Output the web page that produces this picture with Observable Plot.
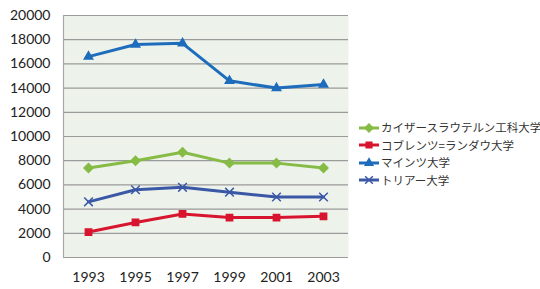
<!DOCTYPE html>
<html><head><meta charset="utf-8">
<script src="https://cdn.jsdelivr.net/npm/d3@7"></script>
<script src="https://cdn.jsdelivr.net/npm/@observablehq/plot@0.6"></script>
<style>
body{margin:0;background:#fff;}
#wrap{position:relative;width:540px;height:289px;}
#legend{position:absolute;left:358px;top:119px;font-family:"Noto Sans CJK JP",sans-serif;font-size:11.5px;color:#333;line-height:17.5px;}
#legend div{display:flex;align-items:center;white-space:nowrap;}
#legend svg{margin-right:1px;}
</style></head><body>
<div id="wrap"><div id="chart"></div><div id="legend"></div></div>
<script>
const years = ["1993","1995","1997","1999","2001","2003"];
const seriesNames = ["カイザースラウテルン工科大学","コブレンツ=ランダウ大学","マインツ大学","トリアー大学"];
const kaiserslautern = [7400, 8000, 8700, 7800, 7800, 7400];
const koblenz = [2100, 2900, 3600, 3300, 3300, 3400];
const mainz = [16600, 17600, 17700, 14600, 14000, 14300];
const trier = [4600, 5600, 5800, 5400, 5000, 5000];
const yTicks = [0,2000,4000,6000,8000,10000,12000,14000,16000,18000,20000];
const colors = ["#86bb45","#d8152f","#1e6cbc","#3a58a6"];
const symbols = ["diamond2","square2","triangle2","times"];

const all = [kaiserslautern, koblenz, mainz, trier];
const data = [];
all.forEach((vals, i) => vals.forEach((v, j) => data.push({year: years[j], value: v, series: seriesNames[i]})));

const chart = Plot.plot({
  width: 540, height: 289,
  marginLeft: 63, marginRight: 192, marginTop: 15, marginBottom: 32,
  style: {fontFamily: "Lato, sans-serif", fontSize: "14px", color: "#222", background: "transparent"},
  x: {type: "point", domain: years, padding: 0.5, label: null, tickSize: 0, tickPadding: 15},
  y: {domain: [0, 20000], ticks: yTicks, tickFormat: d => String(d), label: null, tickSize: 0, tickPadding: 13},
  color: {domain: seriesNames, range: colors},
  symbol: {domain: seriesNames, range: symbols},
  marks: [
    Plot.frame({fill: "#edf3eb", stroke: null}),
    Plot.ruleY(yTicks, {stroke: "#9a9a9a", strokeWidth: 1.2}),
    Plot.frame({anchor: "left", stroke: "#a8a8a8", strokeWidth: 1.2}),
    Plot.line(data, {x: "year", y: "value", z: "series", stroke: "series", strokeWidth: 3}),
    Plot.dot(data, {x: "year", y: "value", symbol: "series", fill: "series", stroke: "series", r: 4, strokeWidth: 1.5})
  ]
});
document.getElementById("chart").appendChild(chart);

const leg = document.getElementById("legend");
seriesNames.forEach((n, i) => {
  const d = document.createElement("div");
  const sym = d3.symbol(d3[{diamond2:"symbolDiamond2",square2:"symbolSquare2",triangle2:"symbolTriangle2",times:"symbolTimes"}[symbols[i]]], 40)();
  d.innerHTML = `<svg width="22" height="12"><line x1="1" x2="21" y1="6" y2="6" stroke="${colors[i]}" stroke-width="3"/><path d="${sym}" transform="translate(11,6)" fill="${colors[i]}" stroke="${colors[i]}" stroke-width="1.5"/></svg><span>${n}</span>`;
  leg.appendChild(d);
});
</script>
</body></html>
